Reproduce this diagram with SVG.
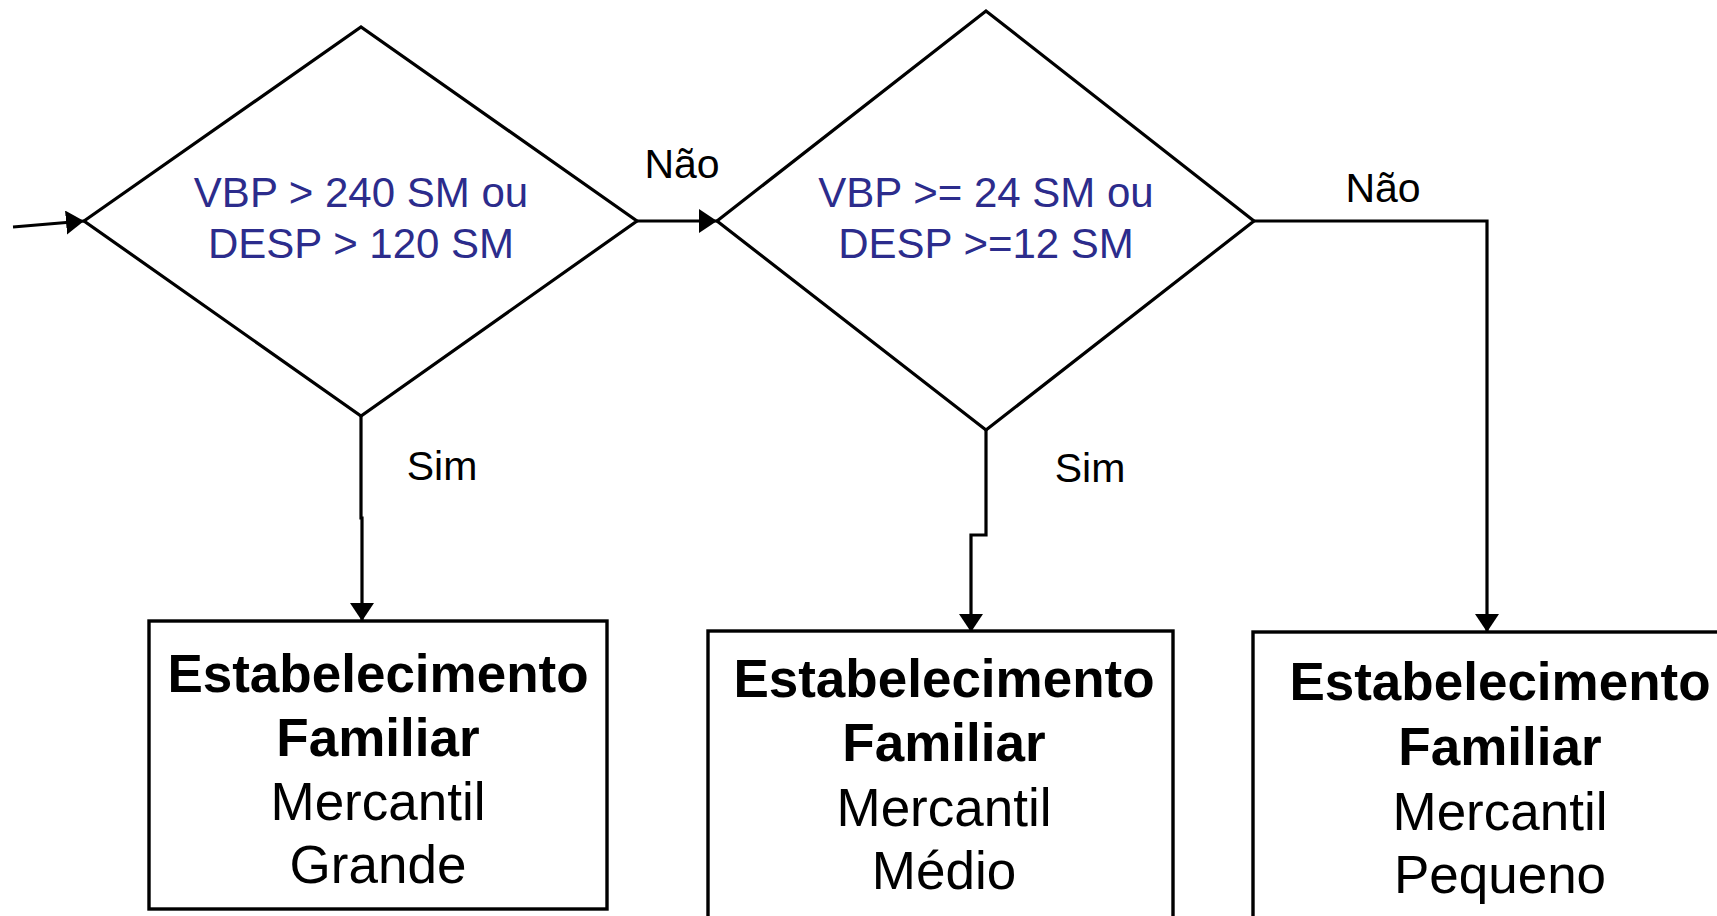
<svg xmlns="http://www.w3.org/2000/svg" width="1717" height="916" viewBox="0 0 1717 916">
<style>
.shape{fill:#fff;stroke:#000;stroke-width:3.2}
.box{fill:#fff;stroke:#000;stroke-width:3.4}
.conn{fill:none;stroke:#000;stroke-width:3.2}
.cond{font-family:"Liberation Sans",Arial,sans-serif;font-size:42px;fill:#2c2c8c;text-anchor:middle}
.lbl{font-family:"Liberation Sans",Arial,sans-serif;font-size:41px;fill:#000;text-anchor:middle}
.bt{font-family:"Liberation Sans",Arial,sans-serif;font-size:53px;fill:#000;text-anchor:middle}
.b{font-weight:bold}
</style>
<defs>
<marker id="arr" markerUnits="userSpaceOnUse" markerWidth="20" markerHeight="26" refX="18" refY="12" orient="auto">
<path d="M0,0 L18,12 L0,24 z" fill="#000"/>
</marker>
</defs>
<rect width="1717" height="916" fill="#fff"/>
<g id="d1">
<polygon class="shape" points="84,221 361,27 637,221 361,416"/>
<text class="cond" x="361" y="207">VBP &gt; 240 SM ou</text>
<text class="cond" x="361" y="258">DESP &gt; 120 SM</text>
</g>
<g id="d2">
<polygon class="shape" points="717,221 986,11 1254,221 986,430"/>
<text class="cond" x="986" y="207">VBP &gt;= 24 SM ou</text>
<text class="cond" x="986" y="258">DESP &gt;=12 SM</text>
</g>
<g id="b1">
<rect class="box" x="149" y="621" width="458" height="288"/>
<text class="bt b" x="378" y="692">Estabelecimento</text>
<text class="bt b" x="378" y="756">Familiar</text>
<text class="bt" x="378" y="820">Mercantil</text>
<text class="bt" x="378" y="883">Grande</text>
</g>
<g id="b2">
<rect class="box" x="708" y="631" width="465" height="300"/>
<text class="bt b" x="944" y="697">Estabelecimento</text>
<text class="bt b" x="944" y="761">Familiar</text>
<text class="bt" x="944" y="826">Mercantil</text>
<text class="bt" x="944" y="889">Médio</text>
</g>
<g id="b3">
<rect class="box" x="1253" y="632" width="500" height="300"/>
<text class="bt b" x="1500" y="700">Estabelecimento</text>
<text class="bt b" x="1500" y="765">Familiar</text>
<text class="bt" x="1500" y="830">Mercantil</text>
<text class="bt" x="1500" y="893">Pequeno</text>
</g>
<g id="connectors">
<path class="conn" d="M13,227 L84,221" marker-end="url(#arr)"/>
<path class="conn" d="M637,221 L717,221" marker-end="url(#arr)"/>
<path class="conn" d="M1254,221 L1487,221 L1487,632" marker-end="url(#arr)"/>
<path class="conn" d="M361,416 L361,518 L362,518 L362,621" marker-end="url(#arr)"/>
<path class="conn" d="M986,430 L986,535 L971,535 L971,632" marker-end="url(#arr)"/>
<text class="lbl" x="682" y="178">Não</text>
<text class="lbl" x="1383" y="202">Não</text>
<text class="lbl" x="442" y="480">Sim</text>
<text class="lbl" x="1090" y="482">Sim</text>
</g>
</svg>
